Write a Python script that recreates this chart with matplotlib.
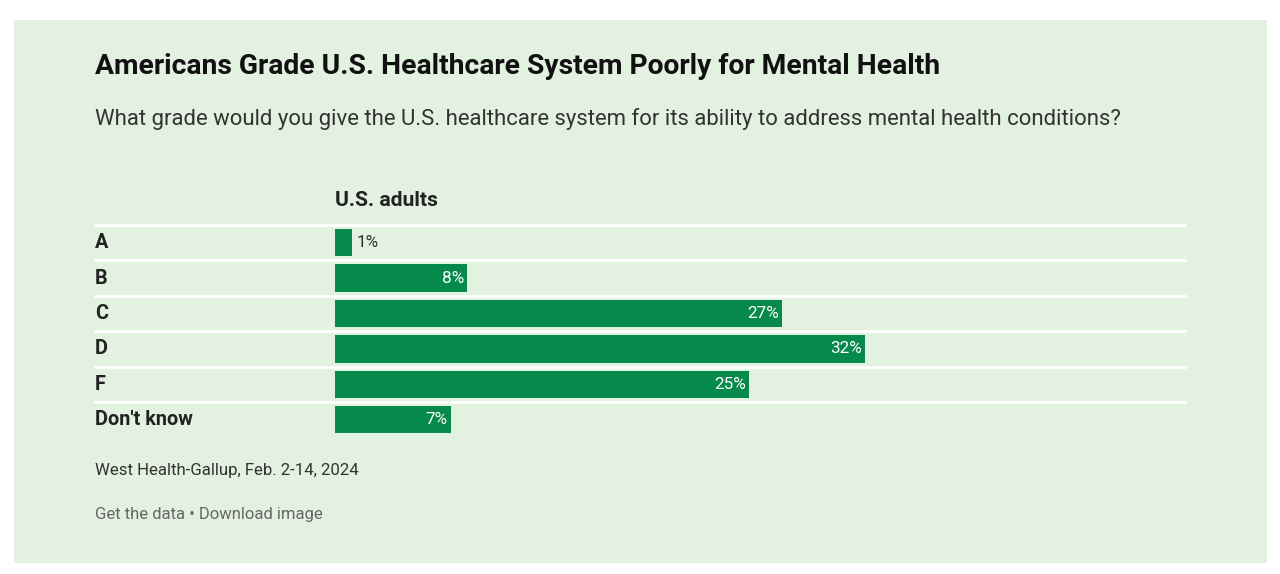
import matplotlib
matplotlib.use("Agg")
import matplotlib.pyplot as plt
from matplotlib.patches import Rectangle
from matplotlib.transforms import blended_transform_factory

categories = ["A", "B", "C", "D", "F", "Don't know"]
values = [1, 8, 27, 32, 25, 7]
labels = ["1%", "8%", "27%", "32%", "25%", "7%"]

W, H = 1280, 574
fig = plt.figure(figsize=(W/100, H/100), dpi=100)
fig.patch.set_facecolor("white")
fig.patches.append(Rectangle((14/W, 1-563/H), (1267-14)/W, (563-20)/H,
                             transform=fig.transFigure, facecolor="#e3f1e0", edgecolor="none", zorder=-5))
plt.rcParams['font.family'] = ['Roboto', 'DejaVu Sans']

x0, x1 = 335, 1185
top, rowh = 225, 35.4
n = len(categories)
ax = fig.add_axes([x0/W, 1-(top+n*rowh)/H, (x1-x0)/W, n*rowh/H])
ax.set_zorder(2)
ax.set_facecolor("none")
ax.set_xlim(0, (x1-x0)/16.56)
ax.set_ylim(n, 0)
ax.axis("off")
green = "#058a4c"
ys = [i+0.5 for i in range(n)]
ax.barh(ys, values, height=0.77, color=green, zorder=2)
for y, v, l in zip(ys, values, labels):
    if v < 3:
        ax.text(v+0.3, y, l, va="center", ha="left", color="#333333", fontsize=12.3)
    else:
        ax.text(v-0.2, y, l, va="center", ha="right", color="white", fontsize=12.3)
tr = blended_transform_factory(fig.transFigure, ax.transData)
for i in range(n):
    ax.plot([95/W, x1/W], [i, i], transform=tr, color="white", lw=2, clip_on=False, zorder=3)
for y, c in zip(ys, categories):
    ax.text(95/W, y, c, transform=tr, va="center", ha="left", fontsize=14.3, fontweight="bold", color="#222222")

fig.text(95/W, 1-67/H, "Americans Grade U.S. Healthcare System Poorly for Mental Health",
         fontsize=20.3, fontweight="bold", color="#111111", va="center")
fig.text(95/W, 1-119/H, "What grade would you give the U.S. healthcare system for its ability to address mental health conditions?",
         fontsize=15.9, color="#333333", va="center")
fig.text(335/W, 1-201/H, "U.S. adults", fontsize=15.2, fontweight="bold", color="#222222", va="center")
fig.text(95/W, 1-471/H, "West Health-Gallup, Feb. 2-14, 2024", fontsize=12.1, color="#333333", va="center")
fig.text(95/W, 1-515/H, "Get the data \u2022 Download image", fontsize=12, color="#666666", va="center")
fig.savefig("out.png", dpi=100, facecolor="white")
